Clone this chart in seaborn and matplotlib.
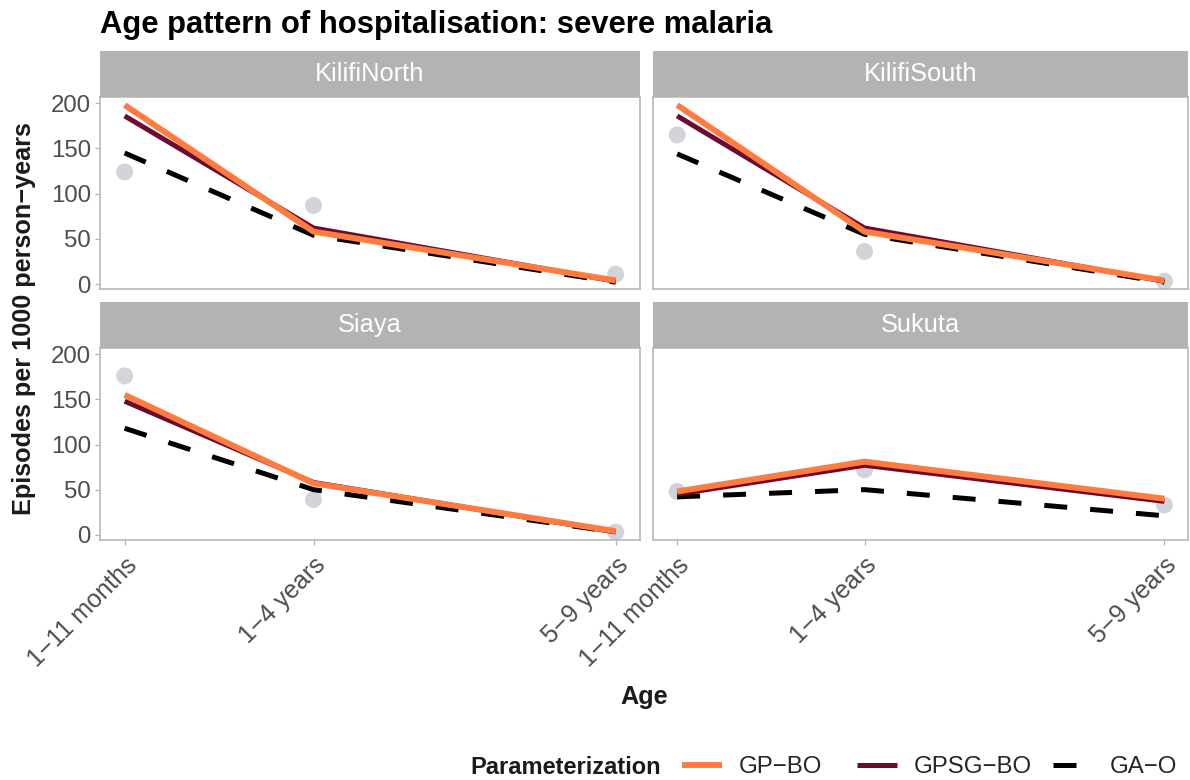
import numpy as np
import pandas as pd
import matplotlib
matplotlib.use("Agg")
import matplotlib.pyplot as plt
from matplotlib.lines import Line2D
import seaborn as sns

# ---------------- data ----------------
sites = ["KilifiNorth", "KilifiSouth", "Siaya", "Sukuta"]
age_labels = ["1\u221211 months", "1\u22124 years", "5\u22129 years"]
age_pos = [0.5, 3.0, 7.0]
models = ["GP\u2212BO", "GPSG\u2212BO", "GA\u2212O"]

gp_bo = {
    "KilifiNorth": [198, 58, 4],
    "KilifiSouth": [198, 58, 4],
    "Siaya": [155, 57, 4],
    "Sukuta": [48, 81, 40],
}
gpsg_bo = {
    "KilifiNorth": [186, 62, 3],
    "KilifiSouth": [186, 62, 3],
    "Siaya": [148, 58, 3],
    "Sukuta": [45, 77, 37],
}
ga_o = {
    "KilifiNorth": [145, 54, 2],
    "KilifiSouth": [144, 55, 2],
    "Siaya": [118, 50, 3],
    "Sukuta": [42, 50, 21],
}
observed = {
    "KilifiNorth": [124, 87, 11],
    "KilifiSouth": [165, 36, 3],
    "Siaya": [176, 39, 3],
    "Sukuta": [48, 72, 33],
}

rows = []
for s in sites:
    for m, d in zip(models, [gp_bo, gpsg_bo, ga_o]):
        for a, v in zip(age_pos, d[s]):
            rows.append((s, m, a, v))
df = pd.DataFrame(rows, columns=["site", "model", "age", "rate"])
obs = pd.DataFrame([(s, a, v) for s in sites for a, v in zip(age_pos, observed[s])],
                   columns=["site", "age", "rate"])

# ---------------- style ----------------
sns.set_theme(style="white")
plt.rcParams["font.family"] = ["Liberation Sans", "DejaVu Sans"]

colors = {"GP\u2212BO": "#FF7C40", "GPSG\u2212BO": "#6E0A30", "GA\u2212O": "#000000"}
widths = {"GP\u2212BO": 4.3, "GPSG\u2212BO": 3.6, "GA\u2212O": 3.6}
dash = {"GP\u2212BO": "", "GPSG\u2212BO": "", "GA\u2212O": (4.6, 4.6)}
zord = {"GP\u2212BO": 5, "GPSG\u2212BO": 4, "GA\u2212O": 3}
pt_color = "#D3D3DA"
frame_col = "#B3B3B3"
tick_col = "#4D4D4D"

W, H = 1190, 780
fig = plt.figure(figsize=(W / 100, H / 100), dpi=100)

def fx(px):
    return px / W

def fy(px):
    return 1 - px / H

cols_x = [(100, 639.5), (652.7, 1188)]
rows_y = [(50.7, 97.3, 289.3), (301.7, 348.3, 540)]

for i, s in enumerate(sites):
    r, c = divmod(i, 2)
    x0, x1 = cols_x[c]
    st, pt, pb = rows_y[r]
    ax = fig.add_axes([fx(x0), fy(pb), fx(x1 - x0), (pb - pt) / H])
    sax = fig.add_axes([fx(x0), fy(pt), fx(x1 - x0), (pt - st) / H])
    sax.set_facecolor(frame_col)
    sax.set_xticks([]); sax.set_yticks([])
    for sp in sax.spines.values():
        sp.set_visible(False)
    sax.text(0.5, 0.5, s, ha="center", va="center", color="white",
             fontsize=18.3, transform=sax.transAxes)

    sub_obs = obs[obs.site == s]
    sns.scatterplot(data=sub_obs, x="age", y="rate", ax=ax, color=pt_color,
                    s=150, edgecolor="none", zorder=2, legend=False)
    for m in ["GA\u2212O", "GPSG\u2212BO", "GP\u2212BO"]:
        sub = df[(df.site == s) & (df.model == m)]
        sns.lineplot(data=sub, x="age", y="rate", ax=ax, color=colors[m],
                     linewidth=widths[m], zorder=zord[m], legend=False,
                     solid_capstyle="butt", dash_capstyle="butt")
        if m == "GA\u2212O":
            ax.lines[-1].set_dashes(dash[m])
    ax.set_xlim(0.174, 7.315)
    ax.set_ylim(-5.8, 206.6)
    ax.set_yticks([0, 50, 100, 150, 200])
    ax.set_xticks(age_pos)
    ax.set_xlabel(""); ax.set_ylabel("")
    for sp in ax.spines.values():
        sp.set_visible(True)
        sp.set_color(frame_col)
        sp.set_linewidth(1.1)
    ax.tick_params(axis="both", which="both", length=3.5, width=0.9,
                   color=frame_col, labelcolor=tick_col, labelsize=17.3, pad=3)
    ax.tick_params(axis="x", pad=6, labelsize=18)
    if c == 0:
        ax.tick_params(axis="y", left=True, labelleft=True)
    else:
        ax.tick_params(axis="y", left=False, labelleft=False)
    if r == 1:
        ax.set_xticklabels(age_labels, rotation=45, ha="right", va="top",
                           rotation_mode="anchor")
        ax.tick_params(axis="x", bottom=True, labelbottom=True)
    else:
        ax.tick_params(axis="x", bottom=False, labelbottom=False)

fig.text(fx(100), fy(33), "Age pattern of hospitalisation: severe malaria",
         fontsize=22.3, fontweight="bold", ha="left", va="baseline", color="black")
fig.text(fx(24), fy(318.7), "Episodes per 1000 person\u2212years", rotation=90,
         fontsize=18.2, fontweight="bold", ha="center", va="center", color="#1A1A1A")
fig.text(fx(644), fy(697), "Age", fontsize=18.2, fontweight="bold",
         ha="center", va="center", color="#1A1A1A")

# legend (horizontal, title to the left as in ggplot)
fig.text(fx(470), fy(767), "Parameterization", fontsize=17, fontweight="bold",
         ha="left", va="center", color="#1A1A1A")
key_x = {"GP\u2212BO": 682, "GPSG\u2212BO": 857, "GA\u2212O": 1053}
for m in models:
    kw = dict(color=colors[m], lw=widths[m], solid_capstyle="butt")
    if m == "GA\u2212O":
        kw = dict(color=colors[m], lw=widths[m], dashes=dash[m], dash_capstyle="butt")
    h = Line2D([], [], **kw)
    leg = fig.legend([h], [m], loc="center left",
                     bbox_to_anchor=(fx(key_x[m]), fy(767)), frameon=False,
                     fontsize=17.3, handlelength=1.65, handletextpad=0.7,
                     borderaxespad=0, borderpad=0)

fig.savefig("out.png", dpi=100)
